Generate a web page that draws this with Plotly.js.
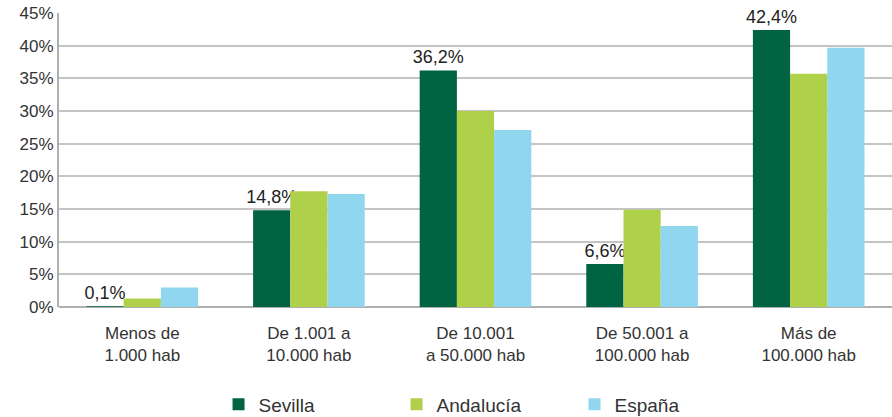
<!DOCTYPE html>
<html>
<head>
<meta charset="utf-8">
<script src="https://cdn.plot.ly/plotly-3.0.1.min.js"></script>
<style>
  body { margin: 0; background: #fff; }
  #chart { width: 892px; height: 417px; }
</style>
</head>
<body>
<div id="chart"></div>
<script>
var categories = ["Menos de<br>1.000 hab", "De 1.001 a<br>10.000 hab", "De 10.001<br>a 50.000 hab", "De 50.001 a<br>100.000 hab", "Más de<br>100.000 hab"];
var sevilla = [0.1, 14.8, 36.2, 6.6, 42.4];
var andalucia = [1.3, 17.7, 30.0, 14.9, 35.7];
var espana = [3.0, 17.3, 27.1, 12.4, 39.7];

var fontFam = '"Liberation Sans", Arial, sans-serif';

// only Sevilla carries value labels
var sevLabels = sevilla.map(function(v) { return v.toFixed(1).replace('.', ',') + '%'; });

var trace1 = {
  x: categories, y: sevilla, name: 'Sevilla', type: 'bar',
  marker: {color: '#006341'},
  text: sevLabels, textposition: 'outside', cliponaxis: false,
  constraintext: 'none',
  textfont: {family: fontFam, size: 18, color: '#222'},
  hoverinfo: 'none'
};
var trace2 = {
  x: categories, y: andalucia, name: 'Andalucía', type: 'bar',
  marker: {color: '#afd14a'}, hoverinfo: 'none'
};
var trace3 = {
  x: categories, y: espana, name: 'España', type: 'bar',
  marker: {color: '#8fd6ee'}, hoverinfo: 'none'
};

var layout = {
  width: 892, height: 417,
  margin: {l: 59, r: 0, t: 13, b: 110},
  paper_bgcolor: '#fff', plot_bgcolor: '#fff',
  font: {family: fontFam, size: 17, color: '#333'},
  barmode: 'group',
  bargap: 0.33, bargroupgap: 0,
  showlegend: true,
  legend: {
    orientation: 'h', xref: 'container', yref: 'container',
    x: 0.245, xanchor: 'left', y: 0.03, yanchor: 'middle',
    font: {family: fontFam, size: 19, color: '#333'},
    entrywidth: 133, entrywidthmode: 'pixels'
  },
  xaxis: {
    showgrid: false, zeroline: false, showline: false,
    ticks: '', ticklabelstandoff: 14,
    tickfont: {size: 17, color: '#333'}
  },
  yaxis: {
    range: [0, 45], dtick: 5, ticksuffix: '%',
    showgrid: true, gridcolor: '#c4c4c4', gridwidth: 2,
    zeroline: true, zerolinecolor: '#b0b0b0', zerolinewidth: 2,
    showline: true, linecolor: '#b0b0b0', linewidth: 2,
    ticks: '', tickfont: {size: 17, color: '#333'}
  }
};

Plotly.newPlot('chart', [trace1, trace2, trace3], layout, {displayModeBar: false, staticPlot: true});
</script>
</body>
</html>
